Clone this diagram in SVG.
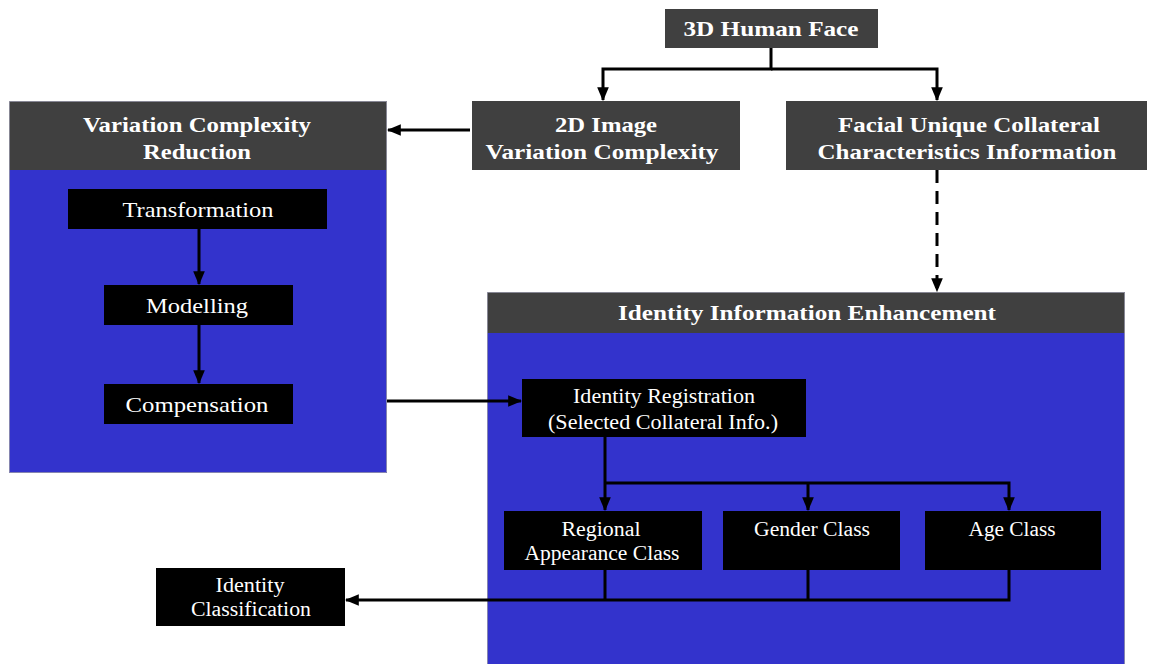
<svg xmlns="http://www.w3.org/2000/svg" width="1149" height="664" viewBox="0 0 1149 664">
  <style>
    .hdr { fill: #404040; }
    .body { fill: #3333cc; }
    .box { fill: #000000; }
    .frame { fill: none; stroke: #9a9aaa; stroke-width: 0.8; }
    text { font-family: "Liberation Serif", "Times New Roman", serif; fill: #ffffff; text-anchor: middle; }
    .b { font-weight: bold; font-size: 21px; }
    .r { font-size: 21px; }
    .n { font-size: 20px; }
    .wire { fill: none; stroke: #000000; stroke-width: 3; }
    .dash { stroke-dasharray: 13 8; }
  </style>
  <defs>
    <marker id="arrow" markerUnits="userSpaceOnUse" markerWidth="14" markerHeight="14" viewBox="0 0 12 12" refX="11" refY="6" orient="auto">
      <path d="M0,1 L12,6 L0,11 Z" fill="#000000"/>
    </marker>
  </defs>

  <rect width="1149" height="664" fill="#ffffff"/>

  <!-- top node -->
  <g id="face3d">
    <rect class="hdr" x="665" y="9" width="213" height="39"/>
    <text class="b" x="771" y="36" textLength="175" lengthAdjust="spacingAndGlyphs">3D Human Face</text>
  </g>

  <g id="image2d">
    <rect class="hdr" x="472" y="101" width="268" height="69"/>
    <text class="b" x="606" y="132" textLength="102" lengthAdjust="spacingAndGlyphs">2D Image</text>
    <text class="b" x="602" y="159" textLength="233" lengthAdjust="spacingAndGlyphs">Variation Complexity</text>
  </g>

  <g id="collateral">
    <rect class="hdr" x="786" y="101" width="361" height="69"/>
    <text class="b" x="969" y="132" textLength="262" lengthAdjust="spacingAndGlyphs">Facial Unique Collateral</text>
    <text class="b" x="967" y="159" textLength="299" lengthAdjust="spacingAndGlyphs">Characteristics Information</text>
  </g>

  <!-- variation complexity reduction panel -->
  <g id="reduction">
    <rect class="body" x="9" y="170" width="378" height="303"/>
    <rect class="hdr" x="9" y="101" width="378" height="69"/>
    <rect class="frame" x="9.5" y="101.5" width="377" height="371"/>
    <text class="b" x="197" y="132" textLength="228" lengthAdjust="spacingAndGlyphs">Variation Complexity</text>
    <text class="b" x="197" y="159" textLength="108" lengthAdjust="spacingAndGlyphs">Reduction</text>
  </g>

  <g id="transformation">
    <rect class="box" x="68" y="189" width="259" height="40"/>
    <text class="r" x="198" y="217" textLength="151" lengthAdjust="spacingAndGlyphs">Transformation</text>
  </g>

  <g id="modelling">
    <rect class="box" x="104" y="285" width="189" height="40"/>
    <text class="r" x="197" y="313" textLength="102" lengthAdjust="spacingAndGlyphs">Modelling</text>
  </g>

  <g id="compensation">
    <rect class="box" x="104" y="384" width="189" height="40"/>
    <text class="r" x="197" y="412" textLength="143" lengthAdjust="spacingAndGlyphs">Compensation</text>
  </g>

  <!-- identity information enhancement panel -->
  <g id="enhancement">
    <rect class="body" x="487" y="333" width="638" height="331"/>
    <rect class="hdr" x="487" y="292" width="638" height="41"/>
    <rect class="frame" x="487.5" y="292.5" width="637" height="372"/>
    <text class="b" x="807" y="320" textLength="378" lengthAdjust="spacingAndGlyphs">Identity Information Enhancement</text>
  </g>

  <g id="registration">
    <rect class="box" x="522" y="379" width="284" height="58"/>
    <text class="n" x="664" y="403" textLength="182" lengthAdjust="spacingAndGlyphs">Identity Registration</text>
    <text class="n" x="663" y="429" textLength="230" lengthAdjust="spacingAndGlyphs">(Selected Collateral Info.)</text>
  </g>

  <g id="regional">
    <rect class="box" x="504" y="511" width="198" height="59"/>
    <text class="n" x="601" y="536" textLength="79" lengthAdjust="spacingAndGlyphs">Regional</text>
    <text class="n" x="602" y="560" textLength="155" lengthAdjust="spacingAndGlyphs">Appearance Class</text>
  </g>

  <g id="gender">
    <rect class="box" x="723" y="511" width="177" height="59"/>
    <text class="n" x="812" y="536" textLength="116" lengthAdjust="spacingAndGlyphs">Gender Class</text>
  </g>

  <g id="age">
    <rect class="box" x="925" y="511" width="176" height="59"/>
    <text class="n" x="1012" y="536" textLength="87" lengthAdjust="spacingAndGlyphs">Age Class</text>
  </g>

  <g id="classification">
    <rect class="box" x="156" y="568" width="189" height="58"/>
    <text class="n" x="250" y="592" textLength="69" lengthAdjust="spacingAndGlyphs">Identity</text>
    <text class="n" x="251" y="616" textLength="120" lengthAdjust="spacingAndGlyphs">Classification</text>
  </g>

  <!-- connectors -->
  <g id="connectors">
    <path class="wire" d="M771,48 V69 H603 V100" marker-end="url(#arrow)"/>
    <path class="wire" d="M771,69 H937 V100" marker-end="url(#arrow)"/>
    <path class="wire" d="M470,130 H388" marker-end="url(#arrow)"/>
    <path class="wire dash" d="M937,170 V291" marker-end="url(#arrow)"/>
    <path class="wire" d="M199,229 V284" marker-end="url(#arrow)"/>
    <path class="wire" d="M199,325 V383" marker-end="url(#arrow)"/>
    <path class="wire" d="M387,401 H521" marker-end="url(#arrow)"/>
    <path class="wire" d="M605,437 V510" marker-end="url(#arrow)"/>
    <path class="wire" d="M605,483 H1009 V510" marker-end="url(#arrow)"/>
    <path class="wire" d="M808,483 V510" marker-end="url(#arrow)"/>
    <path class="wire" d="M605,570 V600"/>
    <path class="wire" d="M808,570 V600"/>
    <path class="wire" d="M1009,570 V600 H346" marker-end="url(#arrow)"/>
  </g>
</svg>
